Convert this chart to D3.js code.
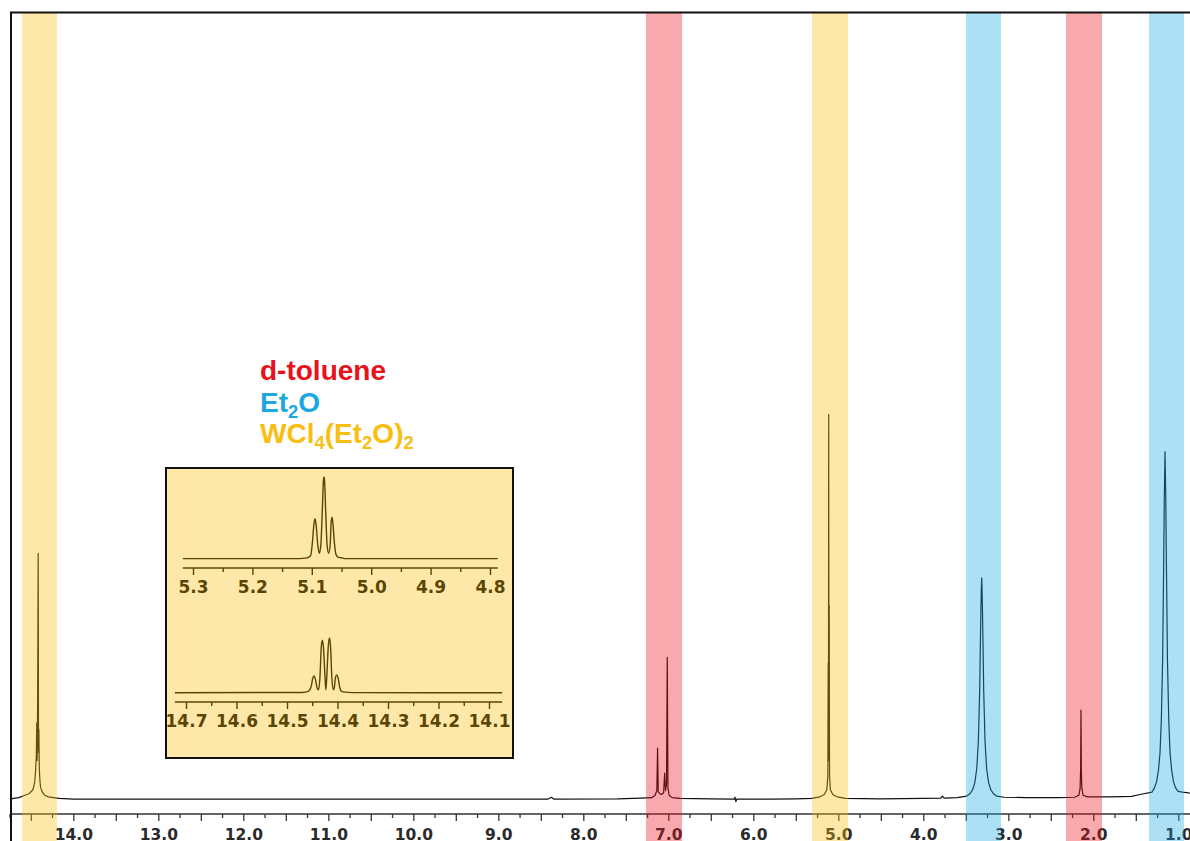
<!DOCTYPE html>
<html><head><meta charset="utf-8">
<script src="https://cdn.jsdelivr.net/npm/d3@7"></script>
<style>body{margin:0;background:#fff}svg{display:block}</style>
</head><body>
<svg id="c" width="1190" height="841"></svg>
<script>
// ---------- DATA ----------
const mainLabelTicks = [14, 13, 12, 11, 10, 9, 8, 7, 6, 5, 4, 3, 2, 1];
const insetTopTicks = [5.3, 5.2, 5.1, 5.0, 4.9, 4.8];
const insetBottomTicks = [14.7, 14.6, 14.5, 14.4, 14.3, 14.2, 14.1];

const legendNames = ["d-toluene", "Et2O", "WCl4(Et2O)2"];
const legendColors = ["#e8111c", "#1ba8e0", "#f9be12"];

const bandGroup = ["WCl4(Et2O)2", "d-toluene", "WCl4(Et2O)2", "Et2O", "d-toluene", "Et2O"];
const bandFrom = [14.603, 7.262, 5.309, 3.498, 2.321, 1.345];
const bandTo   = [14.192, 6.838, 4.886, 3.086, 1.897, 0.933];

// main 1H spectrum: [ppm, intensity (% of plot height)]
const mainSpectrum = [
  [14.745,0.1],[14.70,0.2],[14.64,0.3],[14.57,0.6],[14.52,0.8],[14.475,1.3],[14.455,2.2],
  [14.445,3.5],[14.435,5.5],[14.430,9.8],[14.425,5],[14.420,12],[14.413,31.3],[14.409,6],
  [14.405,9],[14.400,4],[14.393,2.5],[14.385,1.6],[14.365,1.0],[14.335,0.6],[14.295,0.4],
  [14.235,0.3],[14.165,0.2],[14.0,0.1],[12.0,0.1],[10.0,0.1],[8.42,0.1],[8.375,0.35],
  [8.345,0.1],[7.60,0.15],[7.32,0.25],[7.195,0.3],[7.155,0.6],[7.135,1.2],[7.126,6.6],
  [7.118,1.0],[7.085,0.7],[7.055,0.9],[7.043,3.4],[7.033,1.2],[7.021,2.0],[7.012,18.1],
  [7.004,1.5],[6.99,0.6],[6.955,0.3],[6.865,0.2],[6.50,0.15],[6.225,0.1],[6.215,0.35],
  [6.205,-0.2],[6.195,0.1],[5.80,0.1],[5.50,0.15],[5.315,0.2],[5.215,0.4],[5.165,0.7],
  [5.135,1.3],[5.123,3],[5.119,17.4],[5.116,5],[5.113,48.9],[5.110,5],[5.107,24.7],
  [5.103,3],[5.093,1.3],[5.065,0.7],[5.015,0.4],[4.915,0.2],[4.50,0.15],[4.00,0.2],
  [3.795,0.25],[3.775,0.5],[3.755,0.25],[3.60,0.3],
  [3.49,0.5],[3.451,0.8],[3.42,1.3],[3.394,2.2],[3.371,4],[3.352,7.5],[3.3365,14],
  [3.3255,22],[3.318,26.5],[3.313,28.2],[3.308,26.5],[3.3005,22],[3.2895,14],[3.274,7.5],
  [3.255,4],[3.232,2.2],[3.206,1.3],[3.175,0.8],[3.138,0.5],
  [3.05,0.35],[2.80,0.3],[2.40,0.3],[2.22,0.35],[2.17,0.6],
  [2.155,1.5],[2.149,4],[2.145,11.4],[2.141,4],[2.135,1.5],[2.12,0.6],[2.07,0.4],
  [1.80,0.4],[1.55,0.45],[1.45,0.7],
  [1.31,1.0],[1.282,1.5],[1.256,2.3],[1.233,3.8],[1.215,6],[1.2,10],[1.184,18],[1.172,30],
  [1.165,38],[1.156,44.2],[1.147,38],[1.14,30],[1.128,18],[1.112,10],[1.097,6],[1.079,3.8],
  [1.056,2.3],[1.03,1.5],[1.002,1.1],[0.95,1.0],[0.88,0.9],[0.83,0.85]
];

// inset, 5.08 ppm region: [ppm, relative intensity]
const insetTopSpectrum = [
  [5.317,0.5],[5.12,0.5],[5.110,1],[5.102,4],[5.099,20],[5.0965,42],[5.0946,49],[5.0928,42],
  [5.090,18],[5.0875,7],[5.085,15],[5.0825,55],[5.0805,95],[5.0795,100],[5.0785,95],
  [5.0765,55],[5.074,15],[5.0715,7],[5.069,18],[5.0675,44],[5.066,51],[5.0645,44],
  [5.062,20],[5.059,5],[5.055,2],[5.05,1.5],[5.045,0.5],[4.787,0.5]
];
// inset, 14.4 ppm region
const insetBottomSpectrum = [
  [14.722,0.5],[14.47,1],[14.458,3],[14.452,12],[14.449,27],[14.4465,31],[14.444,26],
  [14.440,8],[14.4375,6],[14.435,25],[14.432,85],[14.430,96],[14.428,85],[14.4245,25],
  [14.423,6],[14.4215,25],[14.418,88],[14.416,100],[14.414,88],[14.411,25],[14.408,6],
  [14.4065,9],[14.404,28],[14.4016,33],[14.399,28],[14.3955,10],[14.392,3],[14.385,1.5],
  [14.37,0.7],[14.074,0.5]
];

// ---------- DRAW ----------
const svg = d3.select("#c");
svg.append("rect").attr("width",1190).attr("height",841).attr("fill","#fff");

const color = d3.scaleOrdinal(legendNames, legendColors);
const x = d3.scaleLinear().domain([14, 1]).range([73.3, 1178.3]);
const y = d3.scaleLinear().domain([0, 100]).range([800, 12]);
const tickFont = "'DejaVu Sans', Verdana, sans-serif";

// main spectrum
svg.append("path")
  .datum(mainSpectrum)
  .attr("fill","none").attr("stroke","#111").attr("stroke-width",1.2)
  .attr("stroke-linejoin","round")
  .attr("d", d3.line().x(d=>x(d[0])).y(d=>y(d[1])));

// main axis
const axisY = 814;
svg.append("line").attr("x1",11).attr("x2",1190).attr("y1",axisY).attr("y2",axisY)
  .attr("stroke","#333").attr("stroke-width",1.5);
const quarterTicks = d3.range(14.75, 0.8, -0.25).filter(v => Math.abs(v*2 - Math.round(v*2)) > 1e-6);
const halfTicks = d3.range(14.5, 0.8, -0.5);
const gq = svg.append("g").attr("transform",`translate(0,${axisY})`)
  .call(d3.axisBottom(x).tickValues(quarterTicks).tickSize(4).tickFormat(""));
gq.select(".domain").remove();
const gh = svg.append("g").attr("transform",`translate(0,${axisY})`)
  .call(d3.axisBottom(x).tickValues(halfTicks).tickSize(7)
    .tickFormat(d => mainLabelTicks.includes(d) ? d.toFixed(1) : ""));
gh.select(".domain").remove();
svg.selectAll(".tick line").attr("stroke","#333").attr("stroke-width",1.3);
gh.selectAll("text").attr("y",25.5).attr("dy",null)
  .attr("font-family",tickFont).attr("font-weight","bold").attr("font-size",15.5).attr("fill","#2a2a2a");

// legend
const legendParts = [
  [["d-toluene",0]],
  [["Et",0],["2",1],["O",0]],
  [["WCl",0],["4",1],["(Et",0],["2",1],["O)",0],["2",1]]
];
legendNames.forEach((name,i) => {
  const t = svg.append("text").attr("x",260).attr("y",380 + i*31.5)
    .attr("font-family","'Liberation Sans', Arial, sans-serif").attr("font-weight","bold")
    .attr("font-size",28).attr("fill",color(name));
  let prevSub = 0;
  legendParts[i].forEach(([s,sub]) => {
    const ts = t.append("tspan").text(s);
    if (sub) ts.attr("font-size",18.5).attr("dy", prevSub ? 0 : 6);
    else if (prevSub) ts.attr("dy",-6);
    prevSub = sub;
  });
});

// inset
const inset = svg.append("g");
inset.append("rect").attr("x",166).attr("y",468).attr("width",347).attr("height",290).attr("fill","#fff");
function subPanel(data, ticks, dom, rng, ext, base, top, axY) {
  const sx = d3.scaleLinear().domain(dom).range(rng);
  const sy = d3.scaleLinear().domain([0,100]).range([base, top]);
  inset.append("path").datum(data).attr("fill","none").attr("stroke","#000").attr("stroke-width",1.4)
    .attr("d", d3.line().x(d=>sx(d[0])).y(d=>sy(d[1])).curve(d3.curveMonotoneX));
  inset.append("line").attr("x1",sx(ext[0])).attr("x2",sx(ext[1])).attr("y1",axY).attr("y2",axY)
    .attr("stroke","#000").attr("stroke-width",1.7);
  const minor = ticks.slice(0,-1).map((t,i)=> (t + ticks[i+1])/2);
  const gm = inset.append("g").attr("transform",`translate(0,${axY})`)
    .call(d3.axisBottom(sx).tickValues(minor).tickSize(4).tickFormat(""));
  gm.select(".domain").remove();
  const gM = inset.append("g").attr("transform",`translate(0,${axY})`)
    .call(d3.axisBottom(sx).tickValues(ticks).tickSize(7).tickFormat(d3.format(".1f")));
  gM.select(".domain").remove();
  inset.selectAll(".tick line").attr("stroke","#000").attr("stroke-width",1.4);
  gM.selectAll("text").attr("y",25).attr("dy",null)
    .attr("font-family",tickFont).attr("font-weight","bold").attr("font-size",17).attr("fill","#000");
}
subPanel(insetTopSpectrum, insetTopTicks, [5.3,4.8], [193,490], [5.317,4.787], 559, 477, 568);
subPanel(insetBottomSpectrum, insetBottomTicks, [14.7,14.1], [186,489], [14.722,14.074], 693, 638, 702);
inset.append("rect").attr("x",166).attr("y",468).attr("width",347).attr("height",290)
  .attr("fill",color("WCl4(Et2O)2")).attr("fill-opacity",0.36);
inset.append("rect").attr("x",166).attr("y",468).attr("width",347).attr("height",290)
  .attr("fill","none").attr("stroke","#111").attr("stroke-width",2);

// highlight bands
svg.append("g").selectAll("rect").data(bandGroup).join("rect")
  .attr("x",(d,i)=>x(bandFrom[i]))
  .attr("width",(d,i)=>x(bandTo[i]) - x(bandFrom[i]))
  .attr("y",13).attr("height",841-13)
  .attr("fill",d=>color(d)).attr("fill-opacity",0.36);

// frame
svg.append("line").attr("x1",10).attr("x2",1190).attr("y1",12.5).attr("y2",12.5)
  .attr("stroke","#111").attr("stroke-width",2.2);
svg.append("line").attr("x1",11).attr("x2",11).attr("y1",12).attr("y2",841)
  .attr("stroke","#111").attr("stroke-width",2);
</script>
</body></html>
